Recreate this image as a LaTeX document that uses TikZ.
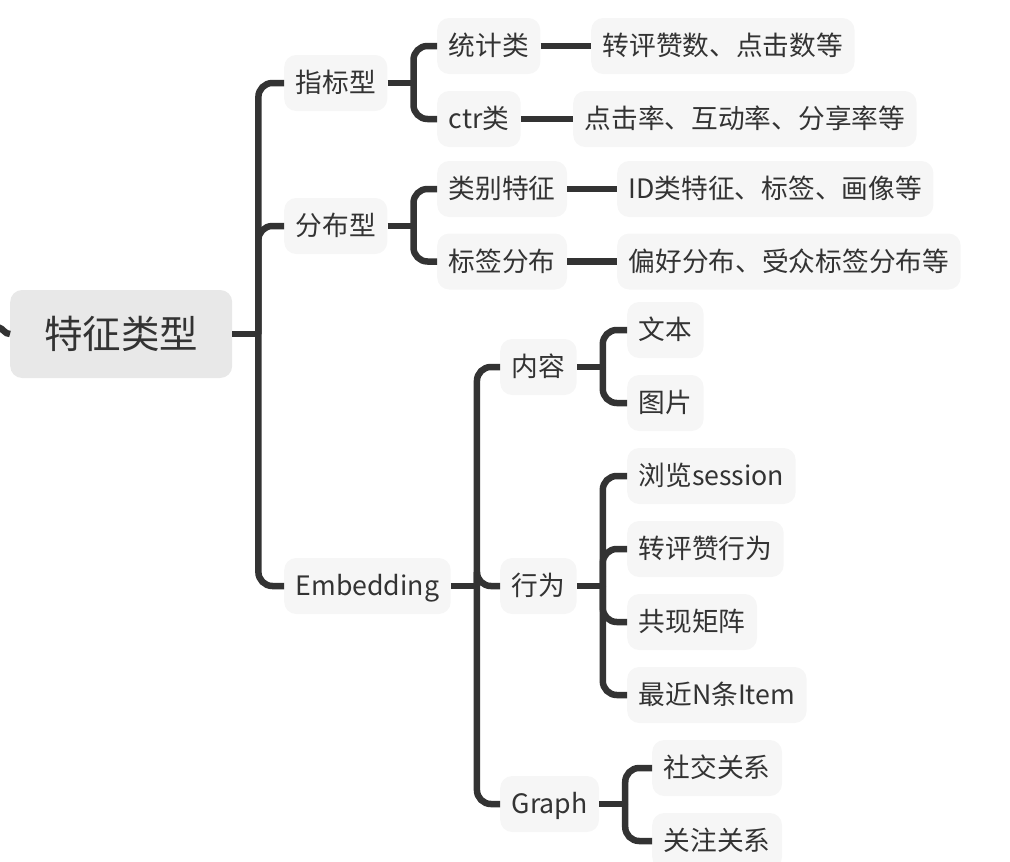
\documentclass[tikz,border=0pt]{standalone}
\usepackage{fontspec}
\setmainfont{Noto Sans CJK SC}
\definecolor{ink}{HTML}{333333}
\definecolor{boxfill}{HTML}{F6F6F6}
\definecolor{rootfill}{HTML}{E8E8E8}
\tikzset{
  topic/.style={fill=boxfill, rounded corners=12pt, text=ink, anchor=west,
    inner xsep=11.5pt, inner ysep=0pt, minimum height=56pt,
    font=\fontsize{26.7}{32}\selectfont, text height=22.7pt, text depth=3.2pt},
  roottopic/.style={topic, fill=rootfill, minimum width=222pt, minimum height=88pt,
    font=\fontsize{38.5}{46}\selectfont, text height=32.7pt, text depth=4.6pt},
  conn/.style={draw=ink, line width=6.5pt, rounded corners=14pt},
}
\begin{document}
\begin{tikzpicture}[x=1pt,y=-1pt]
\useasboundingbox (0,0) rectangle (1010,862);
% nodes
\node[roottopic] (root) at (10,334) {特征类型};
\node[topic] (a1) at (284,83) {指标型};
\node[topic] (a2) at (284,226) {分布型};
\node[topic] (a3) at (284,586) {Embedding};
\node[topic] (b1) at (437,46) {统计类};
\node[topic] (b2) at (437,119) {ctr类};
\node[topic] (c1) at (591,46) {转评赞数、点击数等};
\node[topic] (c2) at (573,119) {点击率、互动率、分享率等};
\node[topic] (b3) at (437,189) {类别特征};
\node[topic] (b4) at (437,261.5) {标签分布};
\node[topic] (c3) at (617,189) {ID类特征、标签、画像等};
\node[topic] (c4) at (617,261.5) {偏好分布、受众标签分布等};
\node[topic] (b5) at (500,367) {内容};
\node[topic] (b6) at (500,586) {行为};
\node[topic] (b7) at (500,804) {Graph};
\node[topic] (d1) at (627,330) {文本};
\node[topic] (d2) at (627,403) {图片};
\node[topic] (d3) at (627,476) {浏览session};
\node[topic] (d4) at (627,549) {转评赞行为};
\node[topic] (d5) at (627,622) {共现矩阵};
\node[topic] (d6) at (627,695) {最近N条Item};
\node[topic] (d7) at (652,768) {社交关系};
\node[topic] (d8) at (652,841) {关注关系};
% incoming stub
\coordinate (stub) at (-2,327);
\draw[conn] (stub) to[out=-15,in=180] (root.west);
% root
\draw[conn] (root.east) -- ++(26,0) coordinate (s0);
\foreach \c in {a1,a2,a3} \draw[conn] (s0) |- (\c.west);
% 指标型
\draw[conn] (a1.east) -- ++(26,0) coordinate (s1);
\foreach \c in {b1,b2} \draw[conn] (s1) |- (\c.west);
\draw[conn] (b1.east) -- (c1.west);
\draw[conn] (b2.east) -- (c2.west);
% 分布型
\draw[conn] (a2.east) -- ++(26,0) coordinate (s2);
\foreach \c in {b3,b4} \draw[conn] (s2) |- (\c.west);
\draw[conn] (b3.east) -- (c3.west);
\draw[conn] (b4.east) -- (c4.west);
% Embedding
\draw[conn] (a3.east) -- ++(26,0) coordinate (s3);
\foreach \c in {b5,b6,b7} \draw[conn] (s3) |- (\c.west);
% 内容
\draw[conn] (b5.east) -- ++(26,0) coordinate (s4);
\foreach \c in {d1,d2} \draw[conn] (s4) |- (\c.west);
% 行为
\draw[conn] (b6.east) -- ++(26,0) coordinate (s5);
\foreach \c in {d3,d4,d5,d6} \draw[conn] (s5) |- (\c.west);
% Graph
\draw[conn] (b7.east) -- ++(26,0) coordinate (s6);
\foreach \c in {d7,d8} \draw[conn] (s6) |- (\c.west);
\end{tikzpicture}
\end{document}
